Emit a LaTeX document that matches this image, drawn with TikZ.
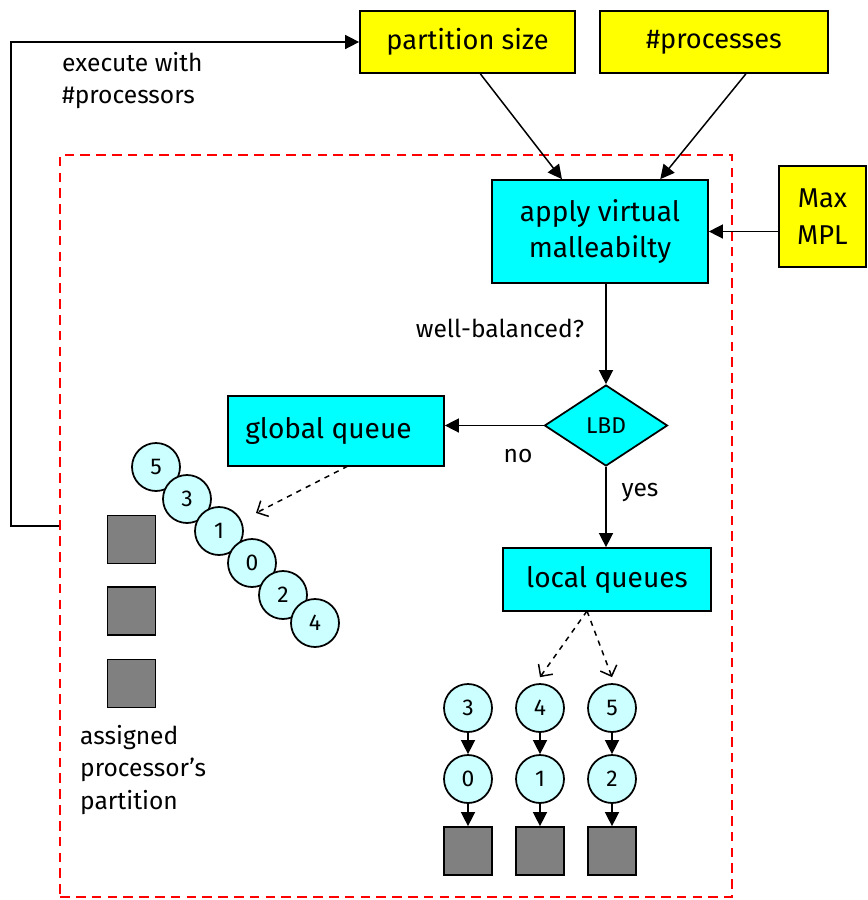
\documentclass[tikz,border=0pt]{standalone}
\usepackage{fontspec}
\setmainfont{Fira Sans}
\usetikzlibrary{arrows.meta,shapes.geometric}
\definecolor{inyellow}{HTML}{FFFF00}
\definecolor{stepcyan}{HTML}{00FFFF}
\definecolor{jobcyan}{HTML}{CCFFFF}
\definecolor{procgray}{HTML}{808080}
\definecolor{frred}{HTML}{FF0000}
\tikzset{
  inbox/.style={draw,line width=1pt,fill=inyellow,align=center,inner sep=0pt,
    font=\fontsize{15.5}{21}\selectfont},
  stepbox/.style={draw,line width=1pt,fill=stepcyan,align=center,inner sep=0pt,
    font=\fontsize{16}{21}\selectfont},
  job/.style={circle,draw,line width=1pt,fill=jobcyan,minimum size=0.96cm,inner sep=0pt,
    font=\fontsize{13}{15}\selectfont},
  proc/.style={draw,line width=1pt,fill=procgray,minimum size=0.96cm,inner sep=0pt},
  lbl/.style={font=\fontsize{14}{18.5}\selectfont,align=left},
  arr/.style={line width=0.85pt,-{Triangle[length=8pt,width=8pt]}},
  dasharr/.style={line width=0.85pt,dashed,-{Straight Barb[length=5pt,width=10pt]}},
  frame/.style={draw=frred,line width=1.4pt,dash pattern=on 5.5pt off 3.5pt}
}
\begin{document}
\begin{tikzpicture}[x=0.02cm,y=-0.02cm]
\useasboundingbox (0,0) rectangle (867,900);
% dashed frame round the scheduler
\node[frame,minimum width=13.44cm,minimum height=14.84cm] (frame) at (396,526) {};
% inputs
\node[inbox,minimum width=4.3cm,minimum height=1.24cm] (psize) at (467.5,42) {partition size};
\node[inbox,minimum width=4.56cm,minimum height=1.24cm] (nproc) at (714,42) {\#processes};
\node[inbox,minimum width=1.74cm,minimum height=2.02cm] (maxmpl) at (822.5,216.5) {Max\\MPL};
% steps
\node[stepbox,minimum width=4.32cm,minimum height=2.06cm] (apply) at (600,231.5) {apply virtual\\malleabilty};
\node[diamond,draw,line width=1pt,fill=stepcyan,minimum width=2.46cm,minimum height=1.62cm,
  inner sep=0pt,font=\fontsize{13}{15}\selectfont] (lbd) at (606,425.5) {LBD};
\node[stepbox,minimum width=4.32cm,minimum height=1.4cm] (gq) at (336,431) {global queue\hspace*{0.3cm}};
\node[stepbox,minimum width=4.16cm,minimum height=1.26cm] (lq) at (607,579.5) {local queues};
% labels
\node[lbl,anchor=north west] (exec) at (56,46) {execute with\\\#processors};
\node[lbl] (wb) at (500,328) {well-balanced?};
\node[lbl] (no) at (518,456) {no};
\node[lbl] (yes) at (640,492) {yes};
\node[lbl,anchor=north west] (asg) at (74,719) {assigned\\processor’s\\partition};
% global queue and its partition
\foreach \n/\x/\y in {5/156/467,3/187/499,1/219/531,0/252/563,2/283/595,4/315/623}
  \node[job] (g\n) at (\x,\y) {\n};
\node[proc] (p1) at (131.5,539.5) {};
\node[proc] (p2) at (131.5,611) {};
\node[proc] (p3) at (131.5,683.5) {};
% local queues
\foreach \i/\a/\b/\x in {1/3/0/468,2/4/1/540,3/5/2/612}{
  \node[job] (t\i) at (\x,708) {\a};
  \node[job] (b\i) at (\x,779) {\b};
  \node[proc] (s\i) at (\x,851) {};
  \draw[arr] (t\i) -- (b\i);
  \draw[arr] (b\i) -- (s\i);
}
% connectors
\draw[arr] (frame.west) -- ++(-48,0) |- (psize.west);
\draw[arr] (psize.-68) -- (apply.126);
\draw[arr] (nproc.-45) -- (apply.41);
\draw[arr] (maxmpl.west|-apply.east) -- (apply.east);
\draw[arr] (lbd.north|-apply.south) -- (lbd.north);
\draw[arr] (lbd.west) -- (lbd.west-|gq.east);
\draw[arr] (lbd.south) -- (lbd.south|-lq.north);
\coordinate (gqs) at (348,466);
\coordinate (gqe) at (256,513);
\draw[dasharr] (gqs) -- (gqe);
\coordinate (lqs) at (587,611);
\draw[dasharr] (lqs) -- ([yshift=0.12cm]t2.north);
\draw[dasharr] (lqs) -- ([yshift=0.12cm]t3.north);
\end{tikzpicture}
\end{document}
